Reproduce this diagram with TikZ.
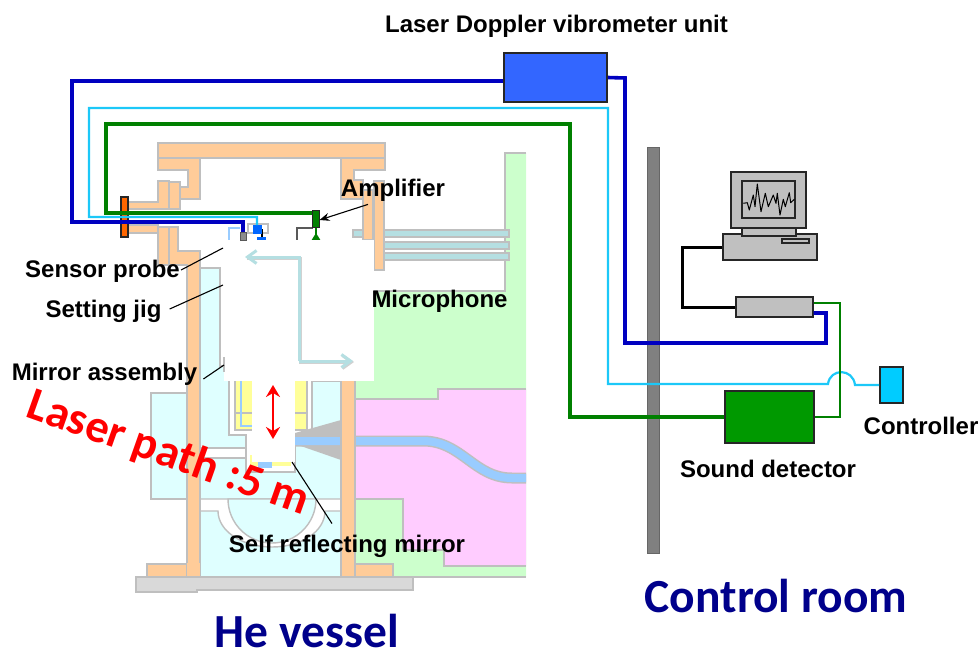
\documentclass[tikz,border=0pt]{standalone}
\usepackage{fontspec}
\setmainfont{Liberation Sans}
\newfontfamily\carl{Carlito}
\usetikzlibrary{arrows.meta}
\definecolor{edgegray}{HTML}{BFBFBF}
\definecolor{orangefill}{HTML}{FFCC99}
\definecolor{cyanfill}{HTML}{DFFFFF}
\definecolor{greenfill}{HTML}{CCFFCC}
\definecolor{pinkfill}{HTML}{FFCCFF}
\definecolor{yellowfill}{HTML}{FFFF99}
\definecolor{pipeblue}{HTML}{99CCFF}
\definecolor{tealfill}{HTML}{B5DFE2}
\definecolor{wireblue}{HTML}{0000C0}
\definecolor{wirecyan}{HTML}{1CC8F8}
\definecolor{wiregreen}{HTML}{008000}
\definecolor{navytext}{HTML}{00008B}
\definecolor{pcgray}{HTML}{C0C0C0}
\definecolor{flangeorange}{HTML}{FF6600}
\definecolor{headblue}{HTML}{0066FF}
\definecolor{unitblue}{HTML}{3366FF}
\definecolor{soundgreen}{HTML}{009900}
\definecolor{ctrlcyan}{HTML}{00CCFF}
\tikzset{
  part/.style={draw=edgegray,line width=1.4pt,line join=miter},
  orangepart/.style={part,fill=orangefill},
  cyanpart/.style={part,fill=cyanfill},
  whitepart/.style={part,fill=white},
  unitbox/.style={draw=black!85,line width=1.6pt,inner sep=0pt,anchor=center},
  pcbox/.style={draw=black!85,line width=1.2pt,fill=pcgray},
  lbl/.style={font=\fontsize{24}{26}\selectfont\bfseries,inner sep=0pt,text=black},
  big/.style={font=\carl\fontsize{47.5}{50}\selectfont\bfseries,inner sep=0pt,text=navytext},
  leader/.style={draw=black,line width=1.1pt},
  thickblue/.style={draw=wireblue,line width=3.6pt,line join=miter},
  thickgreen/.style={draw=wiregreen,line width=3.6pt,line join=miter},
  thincyan/.style={draw=wirecyan,line width=2.2pt,line join=miter},
}
\begin{document}
\begin{tikzpicture}[x=1pt,y=-1pt]
\useasboundingbox (0,0) rectangle (980,648);
% green and pink regions
\fill[greenfill] (505,153) -- (526,153) -- (526,577) -- (355,577) -- (355,291) -- (505,291) -- cycle;
\draw[part] (355,291) -- (505,291) -- (505,153) -- (526,153);
\fill[pinkfill] (438,389) -- (526,389) -- (526,566) -- (444,566) -- (444,550) -- (403,550) -- (403,499) -- (355,499) -- (355,399) -- (438,399) -- cycle;
\draw[part] (526,389) -- (438,389) -- (438,399) -- (355,399);
\draw[part] (355,499) -- (403,499) -- (403,550) -- (444,550) -- (444,566) -- (526,566);
\draw[part] (355,577) -- (526,577);
% base
\path[part,fill=black!15] (136,577) -- (413,577) -- (413,590) -- (197,590) -- (197,592) -- (136,592) -- cycle;
% vessel interior
\path[cyanpart] (151,393) rectangle (190,499);
\path[cyanpart] (200,268) -- (220,268) -- (220,366) -- (229,366) -- (229,381) -- (341,381) -- (341,577) -- (200,577) -- cycle;
% lower white band and dome
\path[whitepart] (200,499) -- (341,499) -- (341,511) -- (325,511) .. controls (325,531) and (302,547) .. (272,547) .. controls (242,547) and (218,531) .. (218,511) -- (200,511) -- cycle;
\path[cyanpart] (228,499) .. controls (228,523.3) and (247.7,543) .. (272,543) .. controls (296.3,543) and (316,523.3) .. (316,499) -- cycle;
% upper white band and mirror chamber
\path[whitepart] (200,448) rectangle (250,458);
\path[whitepart] (229,375) -- (312,375) -- (312,435) -- (295,435) -- (295,472) -- (246,472) -- (246,435) -- (229,435) -- cycle;
\path[part,fill=yellowfill] (235,375) rectangle (307,430);
\draw[part,line width=1.2pt] (235,413) -- (307,413);
\draw[draw=pipeblue,line width=2pt] (241,375) -- (241,426) -- (260,426);
\path[fill=yellowfill] (250,455) rectangle (291,466);
\fill[pipeblue] (258,455) rectangle (272,468);
% sound pipe and cone
\fill[edgegray] (341,420) -- (295,433) -- (295,444) -- (341,460) -- cycle;
\draw[draw=edgegray,line width=11pt] (295,441) -- (423,441) .. controls (462,441) and (474,478) .. (512,478) -- (526,478);
\draw[draw=pipeblue,line width=8pt] (295,441) -- (423,441) .. controls (462,441) and (474,478) .. (512,478) -- (526,478);
% microphone rods
\path[part,fill=tealfill] (353,230) rectangle (509,237);
\path[part,fill=tealfill] (384,242) rectangle (509,249);
\path[part,fill=tealfill] (384,253) rectangle (509,260);
% orange structure
\path[orangepart] (158,143) rectangle (385,158);
\path[orangepart] (158,158) -- (200,158) -- (200,199) -- (180,199) -- (180,187) -- (188,187) -- (188,170) -- (158,170) -- cycle;
\path[orangepart] (128,202) -- (158,202) -- (158,181) -- (169,181) -- (169,209) -- (128,209) -- cycle;
\path[orangepart] (169,182) rectangle (180,209);
\path[orangepart] (128,225) -- (158,225) -- (158,233) -- (128,233) -- cycle;
\path[orangepart] (158,227) rectangle (169,265);
\path[orangepart] (169,227) -- (178,227) -- (178,251) -- (200,251) -- (200,577) -- (187,577) -- (187,564) -- (187,265) -- (169,265) -- cycle;
\path[orangepart] (147,577) -- (147,564) -- (187,564) -- (187,577) -- cycle;
\path[orangepart] (341,158) -- (385,158) -- (385,170) -- (354,170) -- (354,180) -- (363,180) -- (363,199) -- (341,199) -- cycle;
\path[orangepart] (363,190) rectangle (373,240);
\path[orangepart] (374,181) rectangle (384,270);
\path[orangepart] (341,375) rectangle (355,577);
\path[orangepart] (355,564) -- (393,564) -- (393,577) -- (355,577) -- cycle;
\fill[orangefill] (187,563) rectangle (200,576);
% probe details above the masked area
\draw[draw=pipeblue,line width=2.6pt] (229,241) -- (229,228) -- (240,228);
\draw[draw=black!65,line width=1.5pt] (297,241) -- (297,228) -- (313,228);
\path[part,fill=white] (248,224) rectangle (268,233);
\draw[draw=black,line width=1.2pt] (262,229) -- (262,238);
\draw[draw=wiregreen,line width=2pt] (316,227) -- (316,236);
\fill[wiregreen] (316,233) -- (321,241) -- (311,241) -- cycle;
\fill[headblue] (257,237) rectangle (266,241);
% white masks
\fill[white] (224,240) rectangle (374,381);
\fill[white] (252,381) rectangle (295,462);
\draw[draw=edgegray,line width=1.2pt] (224,357) -- (224,372);
% teal arrow with shadow
\draw[draw=black!18,line width=3pt,-{Straight Barb[length=9pt,width=13pt]}] (247,258) -- (300,258) -- (300,362) -- (354,362);
\draw[draw=tealfill,line width=3pt,-{Straight Barb[length=9pt,width=13pt]},line join=miter] (299,361) -- (353,361);
\draw[draw=tealfill,line width=3pt,-{Straight Barb[length=9pt,width=13pt]},line join=miter] (299,361) -- (299,257) -- (245,257);
% red double arrow
\coordinate (redtop) at (273,385);
\coordinate (redbot) at (273,439);
\draw[draw=red,line width=2.8pt,{Stealth[length=12pt,width=14pt,inset=4pt]}-{Stealth[length=12pt,width=14pt,inset=4pt]}] (redtop) -- (redbot);
% equipment nodes
\node[unitbox,fill=flangeorange,minimum width=7pt,minimum height=40pt] (flange) at (124.5,217) {};
\node[draw=black!65,fill=black!45,line width=1pt,inner sep=0pt,minimum width=6pt,minimum height=8pt] (probe) at (243,236) {};
\node[fill=headblue,inner sep=0pt,minimum width=9pt,minimum height=9pt] (head) at (257.5,229.5) {};
\node[draw=black!85,fill=wiregreen,line width=1pt,inner sep=0pt,minimum width=7pt,minimum height=17pt] (amp) at (315.5,218.5) {};
\node[unitbox,fill=unitblue,minimum width=103pt,minimum height=49pt] (vib) at (555.5,77.5) {};
\node[draw=black!60,fill=black!50,line width=.6pt,inner sep=0pt,minimum width=12pt,minimum height=406pt] (wall) at (653,350) {};
\node[pcbox,inner sep=0pt,minimum width=94pt,minimum height=26pt] (pc) at (770,247) {};
\node[pcbox,inner sep=0pt,minimum width=54pt,minimum height=8pt] (stand) at (769,232) {};
\node[pcbox,inner sep=0pt,minimum width=75pt,minimum height=56pt] (monitor) at (768.5,200) {};
\node[draw=black!85,line width=1.2pt,fill=pcgray,inner sep=0pt,minimum width=53pt,minimum height=37pt] (screen) at (768.5,199.5) {};
\node[pcbox,inner sep=0pt,minimum width=27pt,minimum height=4pt] (slot) at (795.5,241) {};
\draw[draw=black,line width=1pt,line join=round] (743.3,203.3) -- (747.3,202.7) -- (749.3,210) -- (753.3,195) -- (755,206.7) -- (757.3,184) -- (761,211.7) -- (765.3,193.3) -- (768.3,206.7) -- (773.3,195) -- (776,203.3) -- (777.3,193.3) -- (780,215) -- (783.3,199.3) -- (785.3,206.7) -- (789.3,192.7) -- (790.7,202.7) -- (794.3,199.3);
\node[pcbox,inner sep=0pt,minimum width=77pt,minimum height=20pt] (daq) at (774.5,307) {};
\node[unitbox,fill=soundgreen,minimum width=89pt,minimum height=52pt] (sound) at (769.5,417) {};
\node[unitbox,fill=ctrlcyan,minimum width=23pt,minimum height=36pt] (ctrl) at (891.5,385) {};
% wires
\draw[thickgreen] (sound.west) -- (570,417) -- (570,124) -- (106,124) -- (106,213) -- (amp.west |- 0,213);
\draw[thincyan] (ctrl.west) -- (855,385) .. controls (853,368) and (830,368) .. (828,384) -- (608,384) -- (608,108) -- (89,108) -- (89,217) -- (257,217) -- (257,225);
\draw[thickblue] ([yshift=-3.5pt]vib.west) -- (72,81) -- (72,222) -- (243,222) -- (probe.north);
\draw[thickblue] (vib.east) -- (625,78) -- (625,343) -- (826,343) -- (826,313) -- ([yshift=-6pt]daq.east);
\draw[draw=black,line width=3pt,line join=miter] (pc.west) -- (682,247) -- (682,307) -- (daq.west);
\draw[draw=wiregreen,line width=2.8pt,line join=miter] ([yshift=4pt]daq.east) -- (840,303) -- (840,417) -- (sound.east);
% labels
\node[lbl] (tvib) at (556.5,26) {Laser Doppler vibrometer unit};
\node[lbl] (tamp) at (393,190) {Amplifier};
\node[lbl] (tsensor) at (102.5,271) {Sensor probe};
\node[lbl] (tjig) at (103.5,311) {Setting jig};
\node[lbl] (tmirror) at (104.5,374) {Mirror assembly};
\node[lbl] (tmic) at (439.5,301) {Microphone};
\node[lbl] (tctrl) at (921,426) {Controller};
\node[lbl] (tsound) at (768,469) {Sound detector};
\node[lbl] (tself) at (347,546) {Self reflecting mirror};
\node[big] (the) at (307,631) {He vessel};
\node[big] (troom) at (776,596) {Control room};
\node[font=\carl\fontsize{46.5}{50}\selectfont\bfseries,text=red,rotate=-19.5,inner sep=0pt] (tlaser) at (168,454) {Laser path :5 m};
% leaders
\coordinate (lsensor) at (223,248);
\coordinate (ljig) at (223,285);
\coordinate (lmirror) at (224,365);
\coordinate (lself) at (292,462);
\draw[leader] (tsensor.east) ++(1,-1) -- (lsensor);
\draw[leader] (tjig.east) ++(8,-2) -- (ljig);
\draw[leader] (tmirror.east) ++(6,5) -- (lmirror);
\draw[leader] (tself.north) ++(-15,-11) -- (lself);
\draw[draw=black,line width=1.1pt,-{Stealth[length=10pt,width=8pt]}] (tamp.south) ++(-25,3) -- (amp.east |- 0,220);
\end{tikzpicture}
\end{document}
